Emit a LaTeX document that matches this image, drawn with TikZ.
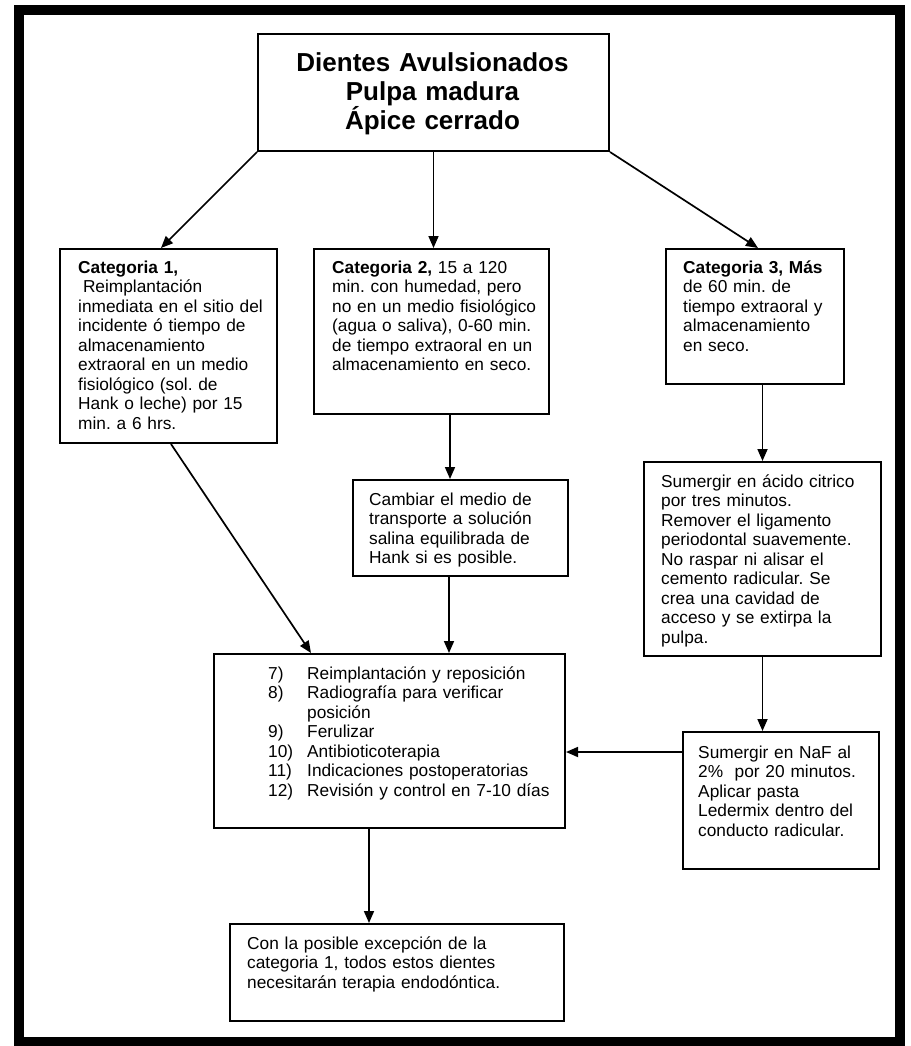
\documentclass[tikz,border=0pt]{standalone}
\usepackage{fontspec}
\setmainfont{Liberation Sans}
\usetikzlibrary{arrows.meta}
\newcommand\jus[2]{\makebox[#1][s]{#2}}
\frenchspacing
\begin{document}
\begin{tikzpicture}[x=1pt,y=-1pt,
  box/.style={draw, line width=2pt, inner sep=0pt, anchor=north west},
  txt/.style={anchor=base west, inner sep=0pt, align=left, font=\frenchspacing\fontsize{17.3}{19.5}\selectfont},
  arr/.style={line width=1.7pt, -{Triangle[length=12pt,width=10pt]}}]
\useasboundingbox (0,0) rectangle (910,1046);
\draw[line width=10pt] (19,10) rectangle (900,1042);

% boxes
\node[box, minimum width=351pt, minimum height=117pt] (top) at (257,33) {};
\node[box, minimum width=217pt, minimum height=194pt] (c1) at (59,248) {};
\node[box, minimum width=235pt, minimum height=165pt] (c2) at (313,248) {};
\node[box, minimum width=178pt, minimum height=135pt] (c3) at (665,248) {};
\node[box, minimum width=215pt, minimum height=96pt] (cam) at (352,479) {};
\node[box, minimum width=237pt, minimum height=194pt] (sum) at (643,461) {};
\node[box, minimum width=351pt, minimum height=174pt] (list) at (213,653) {};
\node[box, minimum width=196pt, minimum height=137pt] (naf) at (682,731) {};
\node[box, minimum width=334pt, minimum height=97pt] (fin) at (229,923) {};

% texts
\node[anchor=base, inner sep=0pt, text width=340pt, align=center,
  font=\bfseries\fontsize{26}{29}\selectfont] (topt) at (432.5,72)
  {Dientes Avulsionados\\Pulpa madura\\Ápice cerrado};

\node[txt, text width=186pt] (c1t) at (78,273) {%
\textbf{Categoria 1,}\\
\hspace*{4.8pt}Reimplantación\\
\jus{180pt}{inmediata en el sitio del}\\
\jus{180pt}{incidente ó tiempo de}\\
almacenamiento\\
\jus{180pt}{extraoral en un medio}\\
\jus{180pt}{fisiológico (sol. de}\\
\jus{180pt}{Hank o leche) por 15}\\
min. a 6 hrs.};

\node[txt, text width=206pt] (c2t) at (332,273) {%
\jus{200pt}{\textbf{Categoria 2,} 15 a 120}\\
\jus{200pt}{min. con humedad, pero}\\
\jus{200pt}{no en un medio fisiológico}\\
\jus{200pt}{(agua o saliva), 0-60 min.}\\
\jus{200pt}{de tiempo extraoral en un}\\
almacenamiento en seco.};

\node[txt, text width=150pt] (c3t) at (683,273) {%
\jus{143pt}{\textbf{Categoria 3, Más}}\\
\jus{143pt}{de 60 min. de}\\
\jus{143pt}{tiempo extraoral y}\\
almacenamiento\\
en seco.};

\node[txt, text width=195pt] (camt) at (369,505) {%
Cambiar el medio de\\
transporte a solución\\
salina equilibrada de\\
Hank si es posible.};

\node[txt, text width=215pt] (sumt) at (661,487) {%
Sumergir en ácido citrico\\
por tres minutos.\\
Remover el ligamento\\
periodontal suavemente.\\
No raspar ni alisar el\\
cemento radicular. Se\\
crea una cavidad de\\
acceso y se extirpa la\\
pulpa.};

\node[txt, text width=290pt] (listt) at (268,679) {%
\makebox[39pt][l]{7)}Reimplantación y reposición\\
\makebox[39pt][l]{8)}Radiografía para verificar\\
\hspace*{39pt}posición\\
\makebox[39pt][l]{9)}Ferulizar\\
\makebox[39pt][l]{10)}Antibioticoterapia\\
\makebox[39pt][l]{11)}Indicaciones postoperatorias\\
\makebox[39pt][l]{12)}Revisión y control en 7-10 días};

\node[txt, text width=178pt] (naft) at (698,758) {%
Sumergir en NaF al\\
2\%\ \ por 20 minutos.\\
Aplicar pasta\\
Ledermix dentro del\\
conducto radicular.};

\node[txt, text width=310pt] (fint) at (247,949) {%
Con la posible excepción de la\\
categoria 1, todos estos dientes\\
necesitarán terapia endodóntica.};

% connectors
\draw[arr] (top.south west) -- ([xshift=-7.5pt]c1.north);
\draw[arr] (top.south) -- (top.south |- c2.north);
\draw[arr] (top.south east) -- ([xshift=3pt]c3.north);
\draw[arr] ([xshift=2.5pt]c1.south) -- ([xshift=-78.5pt]list.north);
\draw[arr] ([xshift=-10.5pt]cam.north |- c2.south) -- ([xshift=-10.5pt]cam.north);
\draw[arr] ([xshift=-11.5pt]cam.south) -- ([xshift=-11.5pt]cam.south |- list.north);
\draw[arr] (sum.north |- c3.south) -- (sum.north);
\draw[arr] (sum.south) -- (sum.south |- naf.north);
\draw[arr] ([yshift=48.5pt]naf.west) -- ([yshift=48.5pt]naf.west -| list.east);
\draw[arr] ([xshift=-28pt]fin.north |- list.south) -- ([xshift=-28pt]fin.north);
\end{tikzpicture}
\end{document}
